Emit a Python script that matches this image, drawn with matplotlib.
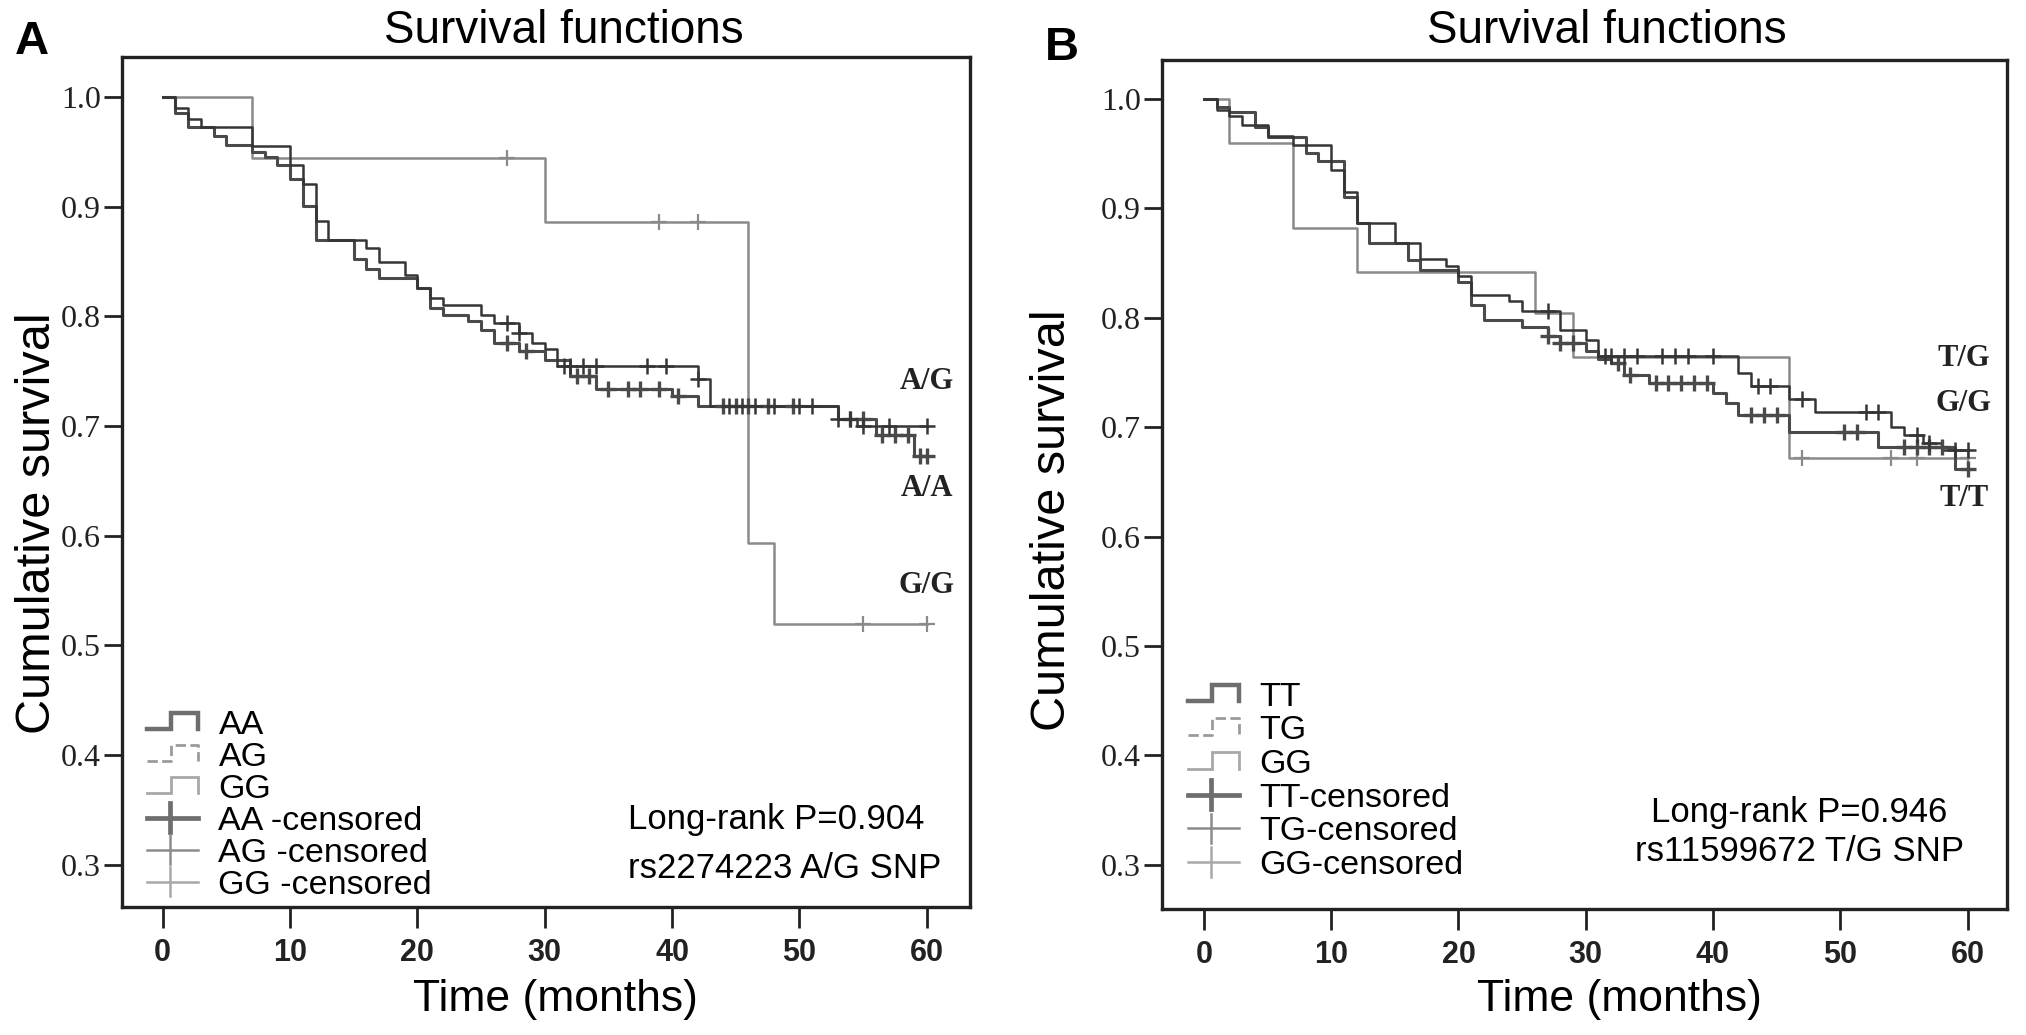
import matplotlib
matplotlib.use("Agg")
import matplotlib.pyplot as plt
from matplotlib import font_manager
from matplotlib.lines import Line2D
from matplotlib.legend_handler import HandlerBase

# ---- data (months, cumulative survival) ----
# panel A : rs2274223 A/G
aa_a_t = [1, 2, 4, 5, 7, 8, 9, 10, 11, 12, 15, 16, 17, 20, 21, 22, 24, 25, 26, 28, 30, 32, 34, 40, 42, 53, 56, 59]
aa_a_s = [0.985, 0.973, 0.964, 0.956, 0.950, 0.945, 0.938, 0.925, 0.901, 0.870, 0.852, 0.843, 0.835, 0.826,
          0.808, 0.801, 0.796, 0.788, 0.776, 0.768, 0.760, 0.746, 0.734, 0.727, 0.718, 0.706, 0.692, 0.673]
aa_a_cens = [27, 28.5, 32.5, 33.5, 35, 36.5, 37.5, 39, 40.5, 44, 45, 46, 47.5, 49.5, 54, 55, 56.5, 57.5, 58.5, 59.5, 60]

ag_a_t = [1, 2, 3, 7, 10, 11, 12, 13, 16, 17, 19, 20, 21, 22, 25, 26, 28, 29, 30, 31, 42, 43, 53, 54.5]
ag_a_s = [0.990, 0.980, 0.973, 0.955, 0.938, 0.921, 0.887, 0.870, 0.862, 0.850, 0.838, 0.826, 0.817, 0.810,
          0.801, 0.794, 0.785, 0.776, 0.770, 0.755, 0.743, 0.718, 0.706, 0.700]
ag_a_cens = [27, 28, 31.5, 32, 33, 34, 38, 39.5, 42, 44.5, 45.5, 46.5, 48, 50, 51, 53, 54, 55, 57, 60]

gg_a_t = [7, 30, 46, 48]
gg_a_s = [0.944, 0.886, 0.593, 0.520]
gg_a_cens = [27, 39, 42, 55, 60]

# panel B : rs11599672 T/G
tt_b_t = [1, 2, 4, 5, 8, 9, 11, 12, 13, 16, 17, 20, 21, 22, 25, 27, 28, 30, 31, 32, 33, 35, 40, 41, 42, 46, 53, 59]
tt_b_s = [0.993, 0.988, 0.974, 0.965, 0.951, 0.943, 0.910, 0.887, 0.868, 0.853, 0.844, 0.833, 0.812, 0.798,
          0.792, 0.783, 0.777, 0.770, 0.762, 0.759, 0.748, 0.740, 0.731, 0.722, 0.711, 0.696, 0.682, 0.662]
tt_b_cens = [27, 28, 29, 32.5, 33.5, 35.5, 36.5, 37.5, 38.5, 39.5, 43, 44, 45, 50.3, 51.3, 55, 56, 57, 58, 60]

tg_b_t = [1, 2, 3, 5, 7, 10, 11, 12, 15, 17, 19, 20, 21, 24, 25, 28, 30, 31, 42, 43, 46, 48, 54, 55, 56.5, 58]
tg_b_s = [0.990, 0.984, 0.976, 0.966, 0.958, 0.935, 0.915, 0.887, 0.868, 0.854, 0.847, 0.838, 0.821, 0.815,
          0.806, 0.789, 0.780, 0.765, 0.750, 0.738, 0.726, 0.714, 0.700, 0.693, 0.686, 0.679]
tg_b_cens = [27, 31.5, 32, 33, 34, 36, 37, 38, 40, 43.5, 44.5, 47, 52, 53, 56, 57, 59, 60]

gg_b_t = [2, 7, 12, 26, 29, 46]
gg_b_s = [0.960, 0.882, 0.842, 0.804, 0.764, 0.672]
gg_b_cens = [47, 54, 56, 60]

end_time = 60

names = {f.name for f in font_manager.fontManager.ttflist}
sans = "Liberation Sans" if "Liberation Sans" in names else "DejaVu Sans"
narrow = "Liberation Sans Narrow" if "Liberation Sans Narrow" in names else sans
serif = "Liberation Serif" if "Liberation Serif" in names else "DejaVu Serif"

DARK = "#353535"
MID = "#4a4a4a"
LIGHT = "#8a8a8a"


def km_xy(times, surv):
    x = [0] + list(times) + [end_time]
    y = [1.0] + list(surv) + [surv[-1]]
    return x, y


def surv_at(times, surv, c):
    s = 1.0
    for t, v in zip(times, surv):
        if t <= c:
            s = v
    return s


class StepProxy(Line2D):
    pass


class CensorProxy(Line2D):
    pass


class StepHandler(HandlerBase):
    def create_artists(self, legend, orig_handle, xdescent, ydescent, width, height, fontsize, trans):
        x0 = -xdescent
        y0 = -ydescent
        lo = y0 + 0.1 * height
        hi = y0 + 0.95 * height
        xs = [x0, x0 + 0.47 * width, x0 + 0.47 * width, x0 + width, x0 + width]
        ys = [lo, lo, hi, hi, lo]
        ln = Line2D(xs, ys, color=orig_handle.get_color(), lw=orig_handle.get_linewidth(),
                    ls=orig_handle.get_linestyle(), solid_joinstyle="miter")
        ln.set_transform(trans)
        return [ln]


class CensorHandler(HandlerBase):
    def create_artists(self, legend, orig_handle, xdescent, ydescent, width, height, fontsize, trans):
        x0 = -xdescent
        y0 = -ydescent
        mid = y0 + 0.5 * height
        lw = orig_handle.get_linewidth()
        h = Line2D([x0, x0 + width], [mid, mid], color=orig_handle.get_color(), lw=lw)
        v = Line2D([x0 + 0.45 * width] * 2, [mid - 0.75 * height, mid + 0.75 * height],
                   color=orig_handle.get_color(), lw=lw)
        h.set_transform(trans)
        v.set_transform(trans)
        return [h, v]


def draw_curve(ax, times, surv, cens, color, lw, mew):
    x, y = km_xy(times, surv)
    ax.step(x, y, where="post", color=color, lw=lw, zorder=3)
    cy = [surv_at(times, surv, c) for c in cens]
    ax.plot(cens, cy, ls="none", marker="+", ms=11, mew=mew, color=color, zorder=4)


def style_axes(ax, xlim, ylim):
    ax.set_xlim(*xlim)
    ax.set_ylim(*ylim)
    ax.set_xticks([0, 10, 20, 30, 40, 50, 60])
    ax.set_yticks([0.3, 0.4, 0.5, 0.6, 0.7, 0.8, 0.9, 1.0])
    ax.set_yticklabels(["%.1f" % v for v in [0.3, 0.4, 0.5, 0.6, 0.7, 0.8, 0.9, 1.0]])
    for sp in ax.spines.values():
        sp.set_linewidth(2.4)
        sp.set_color("#222222")
    ax.tick_params(axis="y", direction="out", length=13, width=2, pad=2, colors="#222222")
    ax.tick_params(axis="x", direction="out", length=15, width=2, pad=7, colors="#222222")
    for lab in ax.get_yticklabels():
        lab.set_fontfamily(serif)
        lab.set_fontsize(23)
    for lab in ax.get_xticklabels():
        lab.set_fontfamily(narrow)
        lab.set_fontweight("bold")
        lab.set_fontsize(22)


def add_legend(ax, labels, anchor, spacing):
    handles = [
        StepProxy([], [], color="#6e6e6e", lw=3.2),
        StepProxy([], [], color="#9a9a9a", lw=2.0, ls=(0, (1.0, 1.3))),
        StepProxy([], [], color="#a8a8a8", lw=2.0),
        CensorProxy([], [], color="#6e6e6e", lw=3.4),
        CensorProxy([], [], color="#8c8c8c", lw=1.8),
        CensorProxy([], [], color="#a8a8a8", lw=1.8),
    ]
    ax.legend(handles, labels, loc="upper left", bbox_to_anchor=anchor, frameon=False,
              prop={"family": sans, "size": 24.5}, handlelength=1.5, handleheight=0.5,
              handletextpad=0.6, labelspacing=spacing, borderpad=0, borderaxespad=0,
              handler_map={StepProxy: StepHandler(), CensorProxy: CensorHandler()})


fig = plt.figure(figsize=(20.26, 10.35), dpi=100)

# ---- panel A ----
axA = fig.add_axes([0.0602, 0.1237, 0.4186, 0.8213])
draw_curve(axA, gg_a_t, gg_a_s, gg_a_cens, LIGHT, 1.8, 1.6)
draw_curve(axA, aa_a_t, aa_a_s, aa_a_cens, MID, 2.2, 2.4)
draw_curve(axA, ag_a_t, ag_a_s, ag_a_cens, DARK, 1.8, 1.8)
style_axes(axA, (-3.2, 63.4), (0.2616, 1.0365))
add_legend(axA, ["AA", "AG", "GG", "AA -censored", "AG -censored", "GG -censored"],
           (0.0295, 0.232), 0.03)
for lab, yv in [("A/G", 0.741), ("A/A", 0.643), ("G/G", 0.555)]:
    axA.text(60, yv, lab, ha="center", va="center", fontsize=22, fontweight="bold",
             family=serif, color="#222222")
axA.text(36.5, 0.341, "Long-rank P=0.904", ha="left", va="center", fontsize=25, family=sans)
axA.text(36.5, 0.297, "rs2274223 A/G SNP", ha="left", va="center", fontsize=25, family=sans)

# ---- panel B ----
axB = fig.add_axes([0.5735, 0.1217, 0.4171, 0.8203])
draw_curve(axB, gg_b_t, gg_b_s, gg_b_cens, LIGHT, 1.8, 1.6)
draw_curve(axB, tt_b_t, tt_b_s, tt_b_cens, MID, 2.2, 2.4)
draw_curve(axB, tg_b_t, tg_b_s, tg_b_cens, DARK, 1.8, 1.8)
style_axes(axB, (-3.3, 63.1), (0.2596, 1.0356))
add_legend(axB, ["TT", "TG", "GG", "TT-censored", "TG-censored", "GG-censored"],
           (0.0308, 0.268), 0.08)
for lab, yv in [("T/G", 0.763), ("G/G", 0.722), ("T/T", 0.635)]:
    axB.text(59.7, yv, lab, ha="center", va="center", fontsize=22, fontweight="bold",
             family=serif, color="#222222")
axB.text(46.8, 0.348, "Long-rank P=0.946", ha="center", va="center", fontsize=25, family=sans)
axB.text(46.8, 0.312, "rs11599672 T/G SNP", ha="center", va="center", fontsize=25, family=sans)

# ---- shared text ----
W, H = 2026, 1035
for x, lab in [(564, "Survival functions"), (1607, "Survival functions")]:
    fig.text(x / W, 1 - 31 / H, lab, ha="center", va="center", fontsize=33, family=sans)
for x, lab in [(555, "Time (months)"), (1619, "Time (months)")]:
    fig.text(x / W, 1 - 1000 / H, lab, ha="center", va="center", fontsize=32, family=sans)
for x, y in [(38, 523), (1052, 520)]:
    fig.text(x / W, 1 - y / H, "Cumulative survival", ha="center", va="center",
             rotation=90, fontsize=35, family=sans)
fig.text(32 / W, 1 - 42 / H, "A", ha="center", va="center", fontsize=34, fontweight="bold", family=sans)
fig.text(1062 / W, 1 - 48 / H, "B", ha="center", va="center", fontsize=34, fontweight="bold", family=sans)

fig.savefig("out.png", dpi=100)
